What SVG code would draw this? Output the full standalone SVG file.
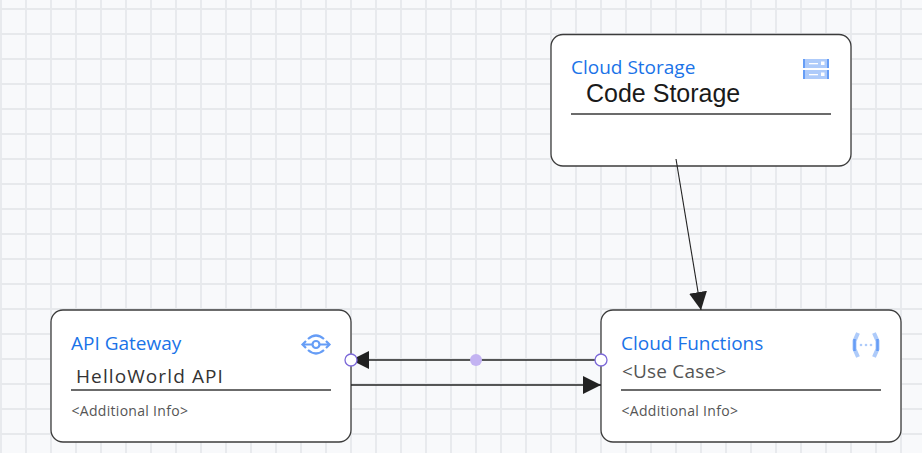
<svg xmlns="http://www.w3.org/2000/svg" width="922" height="453" viewBox="0 0 922 453">
<style>
.box{fill:#fff;stroke:#3c3c3c;stroke-width:1.3}
.sep{stroke:#3a3a3a;stroke-width:1.5}
.type{font:19px "Open Sans","Noto Sans",sans-serif;fill:#1a73e8}
.name{font:19px "Open Sans","Noto Sans",sans-serif;fill:#444}
.info{font:14px "Open Sans","Noto Sans",sans-serif;fill:#555;letter-spacing:.3px}
.conn{stroke:#222;stroke-width:1.5;fill:none}
.port{fill:#fff;stroke:#7b68d8;stroke-width:1.3}
.ic{fill:#669df6}
.ic2{fill:#aecbfa}
</style>
<defs>
<pattern id="grid" width="25" height="25" patternUnits="userSpaceOnUse" x="0" y="8">
<path d="M0 1H25M1 0V25" stroke="#e7e9ec" stroke-width="1.8" fill="none"/>
</pattern>
<marker id="arrow" markerUnits="userSpaceOnUse" markerWidth="19" markerHeight="18" refX="18" refY="9" orient="auto">
<path d="M0 0L18 9L0 18Z" fill="#222"/>
</marker>
</defs>
<rect width="922" height="453" fill="#f8f9fb"/>
<rect width="922" height="453" fill="url(#grid)"/>
<g id="cloud-storage">
<rect class="box" x="551" y="34.500" width="300" height="131.500" rx="12"/>
<text class="type" x="571" y="74">Cloud Storage</text>
<text x="586" y="102" font-family="Liberation Sans,Arial,sans-serif" font-size="25" fill="#1a1a1a">Code Storage</text>
<line class="sep" x1="571" y1="114" x2="831" y2="114"/>
<rect class="ic2" x="803" y="59" width="26" height="9"/>
<rect class="ic2" x="803" y="70" width="26" height="9"/>
<rect class="ic" x="803" y="59" width="2" height="9"/><rect class="ic" x="827" y="59" width="2" height="9"/>
<rect class="ic" x="803" y="70" width="2" height="9"/><rect class="ic" x="827" y="70" width="2" height="9"/>
<rect fill="#fff" x="809" y="63" width="9" height="1.300"/><rect fill="#fff" x="821" y="61.500" width="3.500" height="3.500"/>
<rect fill="#fff" x="809" y="74" width="9" height="1.300"/><rect fill="#fff" x="821" y="72.500" width="3.500" height="3.500"/>
</g>
<g id="api-gateway">
<rect class="box" x="51" y="310" width="300" height="132" rx="12"/>
<text class="type" x="71" y="350">API Gateway</text>
<text class="name" x="76" y="383" letter-spacing="1.100" fill="#333" style="fill:#333">HelloWorld API</text>
<line class="sep" x1="71" y1="390" x2="331" y2="390"/>
<text class="info" x="71.500" y="416">&lt;Additional Info&gt;</text>
<g fill="none" stroke="#669df6" stroke-width="2.200">
<circle cx="316" cy="344.500" r="3.500"/>
<path d="M304 344.500H312M320 344.500H328"/>
<path d="M306 341L302.500 344.500L306 348M326 341L329.500 344.500L326 348"/>
<path d="M308 339Q316 332 324 339M308 350Q316 357 324 350"/>
</g>
</g>
<g id="cloud-functions">
<rect class="box" x="601" y="310" width="300" height="132" rx="12"/>
<text class="type" x="621" y="350">Cloud Functions</text>
<text class="name" x="622" y="378" letter-spacing=".2" style="fill:#555">&lt;Use Case&gt;</text>
<line class="sep" x1="621" y1="390" x2="881" y2="390"/>
<text class="info" x="621.500" y="416">&lt;Additional Info&gt;</text>
<path d="M858 333L854.500 341V349L858 357" fill="none" stroke="#aecbfa" stroke-width="4"/>
<path d="M854.500 339V351" fill="none" stroke="#669df6" stroke-width="2.500"/>
<path d="M874 333L877.500 341V349L874 357" fill="none" stroke="#aecbfa" stroke-width="4"/>
<path d="M877.500 339V351" fill="none" stroke="#669df6" stroke-width="2.500"/>
<circle class="ic2" cx="861" cy="345" r="1.300"/><circle class="ic2" cx="866" cy="345" r="1.300"/><circle class="ic2" cx="871" cy="345" r="1.300"/>
</g>
<g id="connectors">
<line class="conn" x1="676" y1="159" x2="701" y2="310" marker-end="url(#arrow)" style="stroke-width:1.1"/>
<line class="conn" x1="601" y1="360" x2="351" y2="360" marker-end="url(#arrow)"/>
<line class="conn" x1="351" y1="385" x2="601" y2="385" marker-end="url(#arrow)"/>
<circle cx="476" cy="360" r="6" fill="#c3b3f2"/>
<circle class="port" cx="351" cy="360" r="6"/>
<circle class="port" cx="601" cy="360" r="6"/>
</g>
</svg>
